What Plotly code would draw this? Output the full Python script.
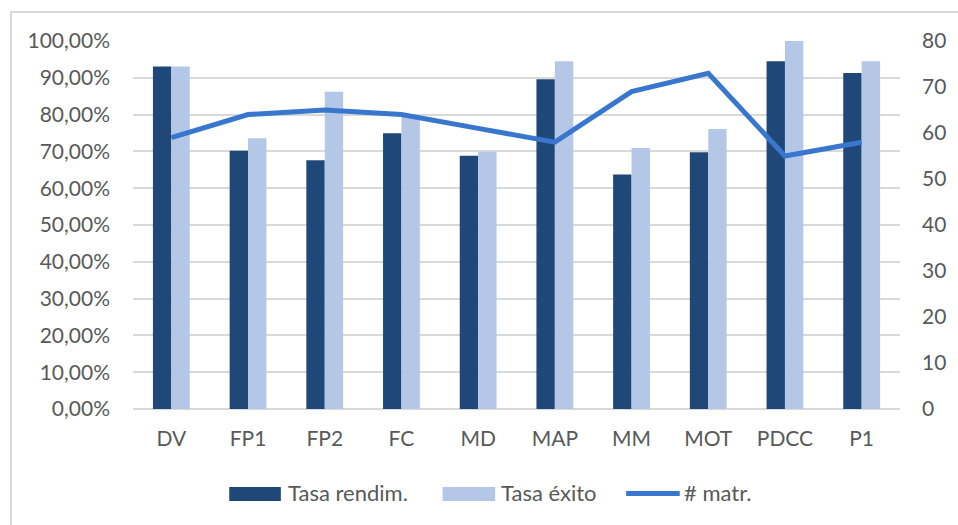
import plotly.graph_objects as go

# Asignaturas
categories = ["DV", "FP1", "FP2", "FC", "MD", "MAP", "MM", "MOT", "PDCC", "P1"]

# Tasas (fracción) y número de matriculados
tasa_rendim = [0.931, 0.702, 0.676, 0.749, 0.688, 0.896, 0.637, 0.698, 0.945, 0.913]
tasa_exito = [0.931, 0.736, 0.862, 0.795, 0.699, 0.945, 0.709, 0.761, 1.000, 0.945]
num_matr = [59, 64, 65, 64, 61, 58, 69, 73, 55, 58]

left_ticks = [i / 10 for i in range(11)]
right_ticks = list(range(0, 81, 10))

FONT = "Lato"
FS = 21
FS_LEG = 22
GREY_TXT = "#595959"
GRID = "#D9D9D9"
C_DARK = "#1F4878"
C_LIGHT = "#B4C7E7"
C_LINE = "#3877CD"

W, H = 958, 525
L, R, T, B = 133, 52, 41, 116
PW, PH = W - L - R, H - T - B


def px(x):
    return (x - L) / PW


def py(y):
    return (H - B - y) / PH


fig = go.Figure()
fig.add_trace(go.Bar(
    x=categories, y=tasa_rendim, name="Tasa rendim.",
    marker=dict(color=C_DARK, line=dict(width=0)),
))
fig.add_trace(go.Bar(
    x=categories, y=tasa_exito, name="Tasa éxito",
    marker=dict(color=C_LIGHT, line=dict(width=0)),
))
fig.add_trace(go.Scatter(
    x=categories, y=num_matr, name="# matr.", yaxis="y2",
    mode="lines", line=dict(color=C_LINE, width=5),
))

# Leyenda inferior: (texto, tipo, color, x muestra inicio, x muestra fin, x texto)
legend_items = [
    ("Tasa rendim.", "bar", C_DARK, 230, 282, 287),
    ("Tasa éxito", "bar", C_LIGHT, 445, 498, 502),
    ("# matr.", "line", C_LINE, 630, 684, 686),
]
shapes = [dict(
    type="rect", xref="paper", yref="paper",
    x0=px(10), x1=px(1100), y0=py(700), y1=py(12),
    line=dict(color=GRID, width=2), fillcolor="rgba(0,0,0,0)",
    layer="below",
)]
annotations = []
for name, kind, color, s0, s1, tx in legend_items:
    if kind == "bar":
        shapes.append(dict(
            type="rect", xref="paper", yref="paper",
            x0=px(s0), x1=px(s1), y0=py(501), y1=py(487),
            line=dict(width=0), fillcolor=color,
        ))
    else:
        shapes.append(dict(
            type="line", xref="paper", yref="paper",
            x0=px(s0), x1=px(s1), y0=py(493.5), y1=py(493.5),
            line=dict(color=color, width=5),
        ))
    annotations.append(dict(
        xref="paper", yref="paper", x=px(tx), y=py(493),
        xanchor="left", yanchor="middle", showarrow=False,
        text=name, font=dict(family=FONT, size=FS_LEG, color=GREY_TXT),
    ))

fig.update_layout(
    width=W, height=H,
    margin=dict(l=L, r=R, t=T, b=B),
    paper_bgcolor="white", plot_bgcolor="white",
    separators=",.",
    barmode="group", bargap=0.52, bargroupgap=0,
    font=dict(family=FONT, size=FS, color=GREY_TXT),
    showlegend=False,
    xaxis=dict(
        showgrid=False, showline=False, ticks="",
        tickfont=dict(family=FONT, size=FS, color=GREY_TXT),
        ticklabelstandoff=15,
    ),
    yaxis=dict(
        range=[0, 1], tickvals=left_ticks, tickformat=".2%",
        showgrid=True, gridcolor=GRID, gridwidth=2,
        zeroline=True, zerolinecolor=GRID, zerolinewidth=2,
        showline=False, ticks="", ticklabelstandoff=22,
        tickfont=dict(family=FONT, size=FS, color=GREY_TXT),
    ),
    yaxis2=dict(
        range=[0, 80], tickvals=right_ticks, overlaying="y", side="right",
        showgrid=False, zeroline=False, showline=False, ticks="",
        ticklabelstandoff=21,
        tickfont=dict(family=FONT, size=FS, color=GREY_TXT),
    ),
    shapes=shapes,
    annotations=annotations,
)

fig.write_html("out.html")
